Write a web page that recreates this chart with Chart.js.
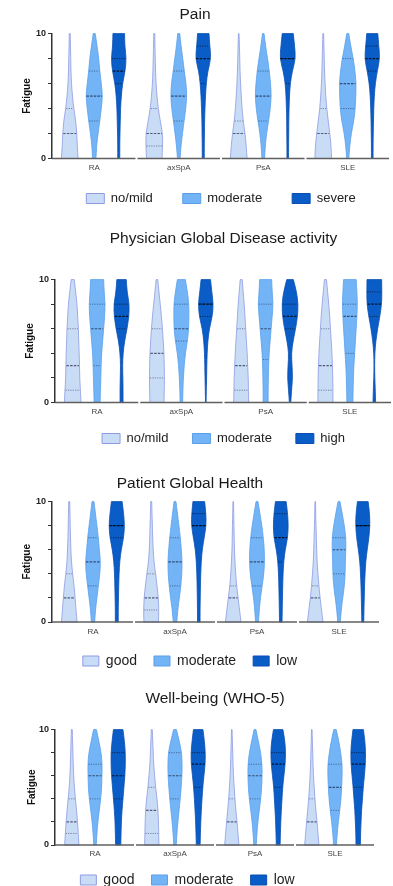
<!DOCTYPE html>
<html>
<head>
<meta charset="utf-8">
<script src="https://cdn.jsdelivr.net/npm/chart.js@4.4.1/dist/chart.umd.min.js"></script>
<style>
  html, body { margin: 0; padding: 0; background: #fff; width: 393px; height: 886px; overflow: hidden; }
  .panel { position: absolute; left: 0; width: 393px; }
</style>
</head>
<body>
<div class="panel" style="top:0;height:215px"><canvas id="pain"></canvas></div>
<div class="panel" style="top:222px;height:233px"><canvas id="physician"></canvas></div>
<div class="panel" style="top:460px;height:218px"><canvas id="patient"></canvas></div>
<div class="panel" style="top:680px;height:217px"><canvas id="wellbeing"></canvas></div>
<script>
// categories and tick labels
const groups = ['RA', 'axSpA', 'PsA', 'SLE'];
const yTickLabels = [0, 5, 10];

const painLevels = ['no/mild', 'moderate', 'severe'];
const physicianLevels = ['no/mild', 'moderate', 'high'];
const patientLevels = ['good', 'moderate', 'low'];
const wellbeingLevels = ['good', 'moderate', 'low'];

// violin density (half width) at fatigue 0..10, one row per disease group
const painNoMild = [
  [8.3, 7.5, 7, 6, 4, 2.7, 1.7, 1.2, 1, 0.7, 0.5],
  [7.7, 8.3, 8.3, 6, 4, 2.7, 1.8, 1.3, 1, 0.7, 0.5],
  [8.3, 7.5, 6.2, 4.5, 3.3, 2.5, 1.8, 1.3, 1, 0.7, 0.3],
  [8.3, 7.8, 6.5, 5, 3.5, 2.5, 1.8, 1.3, 1, 0.7, 0.4]
];
const painModerate = [
  [1.7, 2.3, 3.8, 5.5, 7, 8.3, 7, 5.5, 4.5, 2.8, 1],
  [1.3, 2.2, 3.7, 5.3, 7, 8, 7.3, 5.5, 4, 2.3, 1],
  [1.3, 2, 3.3, 5.3, 7, 8, 7.3, 6, 4.3, 2.3, 0.8],
  [1, 2, 3.5, 6, 7.5, 8, 8.3, 7.2, 5.5, 3, 1]
];
const painSevere = [
  [1, 1, 1.2, 1.5, 1.8, 2.5, 3.8, 6.3, 7.5, 6, 5.8],
  [1, 1, 1.2, 1.3, 1.7, 2.2, 3, 4.5, 7.7, 6.5, 5.7],
  [0.8, 0.8, 1, 1, 1.3, 1.7, 2.5, 4.5, 7.8, 6.8, 5.5],
  [0.8, 0.8, 1, 1.2, 1.5, 2, 3, 5, 7.5, 6.5, 5.5]
];
// quartiles [q1, median, q3]
const painNoMildStats = [[0, 2, 4], [1, 2, 4], [0, 2, 3], [0, 2, 4]];
const painModerateStats = [[3, 5, 7], [3, 5, 7], [3, 5, 7], [4, 6, 8]];
const painSevereStats = [[6, 7, 8], [6, 8, 9], [6, 8, 8], [7, 8, 9]];

const physicianNoMild = [
  [8.3, 7.7, 7, 6.8, 6.5, 6, 5.7, 5, 4.3, 3, 1.5],
  [7, 7.3, 7.5, 7.3, 7, 6.3, 5.5, 4.5, 3.3, 2, 0.8],
  [7.5, 7.3, 7, 6.5, 6, 5.2, 4.5, 3.8, 3, 2, 1],
  [7.5, 7.5, 7.3, 7, 6.5, 5.8, 5, 4.3, 3.3, 2.2, 1]
];
const physicianModerate = [
  [3, 3.3, 3.7, 4, 4.5, 5.5, 6.5, 7.5, 8, 7, 6.5],
  [1.3, 1.5, 2, 2.8, 4, 6, 7.3, 7.5, 7.5, 6, 4],
  [2.5, 2.5, 2.7, 3, 3.5, 4.5, 5.5, 6.5, 7.5, 6.5, 6],
  [3, 3.2, 3.5, 4, 4.8, 5.5, 6.3, 7, 7.5, 7, 6.3]
];
const physicianHigh = [
  [1.5, 1.5, 1.3, 1, 1.5, 3, 5.5, 7.3, 7.7, 5.5, 4.7],
  [0.3, 0.5, 0.8, 1, 1.3, 2, 3.5, 6.5, 7.5, 6, 4.7],
  [0.7, 1.5, 2.5, 2, 1.3, 3, 5.5, 7.5, 8, 6.5, 3.3],
  [1.3, 1, 0.5, 0.3, 0.5, 1.5, 3.3, 5.5, 7.3, 7.5, 7.3]
];
const physicianNoMildStats = [[1, 3, 6], [2, 4, 6], [1, 3, 6], [1, 3, 6]];
const physicianModerateStats = [[3, 6, 8], [5, 6, 8], [3.5, 6, 8], [4, 7, 8]];
const physicianHighStats = [[6, 7, 8], [7, 8, 8], [6, 7, 8], [7, 8, 9]];

const patientGood = [
  [8, 7, 6, 5, 3.5, 2.3, 1.7, 1.3, 1, 0.8, 0.5],
  [7.5, 7.8, 7.3, 6, 4.5, 2.8, 2, 1.5, 1.2, 0.8, 0.5],
  [8, 6.5, 5, 3.5, 2.5, 1.8, 1.3, 1, 0.8, 0.5, 0.3],
  [8, 6.5, 5, 3.8, 2.8, 2, 1.5, 1.2, 0.8, 0.5, 0.3]
];
const patientModerate = [
  [1.7, 2.5, 4, 5.5, 7, 7.7, 6.5, 5.5, 4, 2.5, 1],
  [1.8, 2.8, 4.5, 6, 7, 7.3, 6.5, 5.5, 4, 2.5, 1],
  [1.5, 2.3, 3.5, 5.3, 7, 7.7, 7.5, 6.5, 5, 3, 1],
  [1.3, 2.3, 3.8, 5.5, 6.3, 6.5, 7, 7, 5.5, 3.3, 1]
];
const patientLow = [
  [1.5, 1.5, 1.7, 2, 2.3, 3, 4.5, 7, 8, 7, 5.5],
  [1.3, 1.3, 1.5, 1.7, 2, 2.5, 3.5, 5.5, 7.5, 7.3, 6],
  [1.3, 1.5, 1.7, 2, 2.3, 3, 4.5, 7, 7.7, 7, 5.5],
  [1, 1.2, 1.5, 1.8, 2.3, 3, 4.5, 6.3, 7.3, 7, 5.5]
];
const patientGoodStats = [[0, 2, 4], [1, 2, 4], [0, 2, 3], [0, 2, 3]];
const patientModerateStats = [[3, 5, 7], [3, 5, 7], [3, 5, 7], [4, 6, 7]];
const patientLowStats = [[7, 8, 8], [8, 8, 9], [5, 7, 9], [8, 8, 8]];

const wellbeingGood = [
  [7.5, 6.8, 6, 5, 3.8, 2.7, 2, 1.5, 1.2, 0.8, 0.5],
  [7.5, 7.3, 7, 6.5, 5.5, 4, 3, 2, 1.5, 1, 0.5],
  [7.5, 6.5, 5.5, 4.3, 3.3, 2.5, 1.8, 1.3, 1, 0.6, 0.3],
  [7.5, 6.5, 5.5, 4.3, 3.3, 2.5, 1.8, 1.3, 1, 0.6, 0.3]
];
const wellbeingModerate = [
  [1.3, 2, 3, 4.5, 6, 7, 7.3, 7.5, 6.5, 4, 1.5],
  [1.3, 2, 3, 4.3, 5.5, 6.5, 7.3, 7.5, 7, 4.5, 1.5],
  [1.3, 2, 3, 4.5, 6, 7, 7.5, 7.3, 6, 3.5, 1],
  [1.5, 2.3, 3.5, 5, 6.3, 7, 7.5, 7.5, 6, 4, 1.3]
];
const wellbeingLow = [
  [2.7, 3, 3.3, 4, 5, 6, 7, 7.5, 7.5, 6.5, 5],
  [2, 2.3, 2.7, 3.3, 4, 4.8, 6, 7.3, 7.5, 6.5, 5],
  [2, 2.3, 2.7, 3.3, 4, 4.7, 6, 7.3, 7.8, 7, 5],
  [2.3, 2.5, 3, 3.5, 4.5, 5.3, 6.5, 7.5, 7.8, 7, 5.5]
];
const wellbeingGoodStats = [[1, 2, 4], [1, 3, 5], [0, 2, 4], [0, 2, 4]];
const wellbeingModerateStats = [[4, 6, 7], [4, 6, 8], [4, 6, 7], [3, 5, 7]];
const wellbeingLowStats = [[4, 6, 8], [5, 7, 8], [5, 7, 8], [5, 7, 8]];

// styling
const OFFSETS = [-0.29, 0, 0.29];
const WIDTH_PER_DENSITY = 1 / 84;
const FILLS = ['#c9dcf6', '#72b4f6', '#0a5cc6'];
const BORDERS = ['#8d9be2', '#5b9fea', '#0a4fb2'];
const STAT_LINES = ['rgba(45,45,80,0.75)', 'rgba(30,40,70,0.75)', 'rgba(0,0,0,0.8)'];

Chart.defaults.font.family = '"Liberation Sans", Arial, sans-serif';
Chart.defaults.color = '#222';

function smoothSide(ctx, pts, start) {
  if (start) ctx.moveTo(pts[0].x, pts[0].y); else ctx.lineTo(pts[0].x, pts[0].y);
  for (let i = 1; i < pts.length - 1; i++) {
    const mx = (pts[i].x + pts[i + 1].x) / 2, my = (pts[i].y + pts[i + 1].y) / 2;
    ctx.quadraticCurveTo(pts[i].x, pts[i].y, mx, my);
  }
  ctx.lineTo(pts[pts.length - 1].x, pts[pts.length - 1].y);
}

function densityAt(dens, v) {
  const i = Math.min(Math.floor(v), dens.length - 2);
  const f = v - i;
  return dens[i] * (1 - f) + dens[i + 1] * f;
}

const violinPlugin = {
  id: 'violins',
  afterDatasetsDraw(chart) {
    const {ctx, scales: {x, y}} = chart;
    chart.data.datasets.forEach((ds, k) => {
      ds.density.forEach((dens, g) => {
        const xv = g + OFFSETS[k];
        const right = dens.map((d, i) => ({x: x.getPixelForValue(xv + d * WIDTH_PER_DENSITY), y: y.getPixelForValue(i)}));
        const left = dens.map((d, i) => ({x: x.getPixelForValue(xv - d * WIDTH_PER_DENSITY), y: y.getPixelForValue(i)})).reverse();
        ctx.save();
        ctx.beginPath();
        smoothSide(ctx, right, true);
        smoothSide(ctx, left, false);
        ctx.closePath();
        ctx.fillStyle = ds.backgroundColor;
        ctx.fill();
        ctx.lineWidth = 0.8;
        ctx.strokeStyle = ds.borderColor;
        ctx.stroke();

        const [q1, med, q3] = ds.stats[g];
        [[q1, false], [q3, false], [med, true]].forEach(([v, isMedian]) => {
          if (v <= 0 || v >= 10) return;
          const w = densityAt(dens, v) * WIDTH_PER_DENSITY;
          const py = y.getPixelForValue(v);
          ctx.beginPath();
          ctx.moveTo(x.getPixelForValue(xv - w) + 0.5, py);
          ctx.lineTo(x.getPixelForValue(xv + w) - 0.5, py);
          ctx.strokeStyle = STAT_LINES[k];
          ctx.lineWidth = isMedian ? 1.2 : 0.7;
          ctx.setLineDash(isMedian ? [2.5, 1.2] : [1.2, 1.2]);
          ctx.stroke();
        });
        ctx.restore();
      });
    });

    // segmented baseline, one piece per disease group
    ctx.save();
    ctx.strokeStyle = '#5f5f5f';
    ctx.lineWidth = 1.6;
    const y0 = y.getPixelForValue(0);
    groups.forEach((_, g) => {
      ctx.beginPath();
      ctx.moveTo(x.getPixelForValue(g - 0.5) + (g > 0 ? 1 : 0), y0);
      ctx.lineTo(x.getPixelForValue(g + 0.5) - 1, y0);
      ctx.stroke();
    });
    ctx.restore();
  }
};

function makePanel(id, title, levels, densities, stats, opt) {
  new Chart(document.getElementById(id), {
    type: 'scatter',
    data: {
      datasets: levels.map((label, k) => ({
        label: label,
        data: groups.map((_, g) => ({x: g + OFFSETS[k], y: stats[k][g][1]})),
        density: densities[k],
        stats: stats[k],
        backgroundColor: FILLS[k],
        borderColor: BORDERS[k],
        borderWidth: 1,
        pointRadius: 0,
        pointHoverRadius: 0
      }))
    },
    options: {
      responsive: true,
      maintainAspectRatio: false,
      animation: false,
      layout: {padding: {left: 0, right: opt.padRight, top: 0, bottom: 0}},
      plugins: {
        title: {
          display: true,
          text: title,
          fullSize: opt.titleFull,
          color: '#1a1a1a',
          font: {size: 15.5, weight: 'normal'},
          padding: opt.titlePad
        },
        legend: {
          position: 'bottom',
          fullSize: opt.legendFull,
          labels: {
            boxWidth: opt.boxWidth,
            boxHeight: 10,
            padding: opt.legendPad,
            color: '#222',
            font: {size: opt.legendFont}
          }
        },
        tooltip: {enabled: false}
      },
      scales: {
        x: {
          type: 'linear',
          min: -0.5,
          max: 3.5,
          afterBuildTicks: s => { s.ticks = groups.map((_, i) => ({value: i})); },
          afterFit: s => { s.height = opt.xHeight; },
          grid: {display: false},
          border: {display: false},
          ticks: {
            // mirrored so the labels are not clipped to the thin axis box
            mirror: true,
            padding: opt.xPad,
            color: '#444',
            font: {size: 8},
            maxRotation: 0,
            callback: v => groups[v] ?? ''
          }
        },
        y: {
          min: 0,
          max: 10,
          afterBuildTicks: s => { s.ticks = Array.from({length: 11}, (_, i) => ({value: i})); },
          afterFit: s => { s.width = opt.yWidth; },
          grid: {drawOnChartArea: false, drawTicks: true, tickLength: 4, tickColor: '#333', tickWidth: 1},
          border: {display: true, color: '#333', width: 1.5},
          ticks: {
            padding: 2,
            color: '#222',
            font: {size: 9, weight: 'bold'},
            callback: v => yTickLabels.includes(v) ? String(v) : ''
          },
          title: {
            display: true,
            text: 'Fatigue',
            color: '#111',
            font: {size: 10, weight: 'bold'},
            padding: {top: opt.yTitlePad, bottom: 0}
          }
        }
      }
    },
    plugins: [violinPlugin]
  });
}

makePanel('pain', 'Pain', painLevels,
  [painNoMild, painModerate, painSevere],
  [painNoMildStats, painModerateStats, painSevereStats],
  {padRight: 3, titleFull: true, titlePad: {top: 5, bottom: 10}, legendFull: false, boxWidth: 18,
   legendPad: 30, legendFont: 13, xHeight: 3.5, xPad: -13.8, yWidth: 52, yTitlePad: 21.5});

makePanel('physician', 'Physician Global Disease activity', physicianLevels,
  [physicianNoMild, physicianModerate, physicianHigh],
  [physicianNoMildStats, physicianModerateStats, physicianHighStats],
  {padRight: 1, titleFull: false, titlePad: {top: 7, bottom: 32}, legendFull: false, boxWidth: 18,
   legendPad: 24, legendFont: 13, xHeight: 5.5, xPad: -14.3, yWidth: 55, yTitlePad: 24});

makePanel('patient', 'Patient Global Health', patientLevels,
  [patientGood, patientModerate, patientLow],
  [patientGoodStats, patientModerateStats, patientLowStats],
  {padRight: 13, titleFull: true, titlePad: {top: 14, bottom: 9}, legendFull: true, boxWidth: 16,
   legendPad: 17, legendFont: 14, xHeight: 15, xPad: -14.8, yWidth: 52, yTitlePad: 21.5});

makePanel('wellbeing', 'Well-being (WHO-5)', wellbeingLevels,
  [wellbeingGood, wellbeingModerate, wellbeingLow],
  [wellbeingGoodStats, wellbeingModerateStats, wellbeingLowStats],
  {padRight: 18, titleFull: false, titlePad: {top: 9, bottom: 22}, legendFull: true, boxWidth: 16,
   legendPad: 17, legendFont: 14, xHeight: 11, xPad: -13.8, yWidth: 55, yTitlePad: 26});
</script>
</body>
</html>
